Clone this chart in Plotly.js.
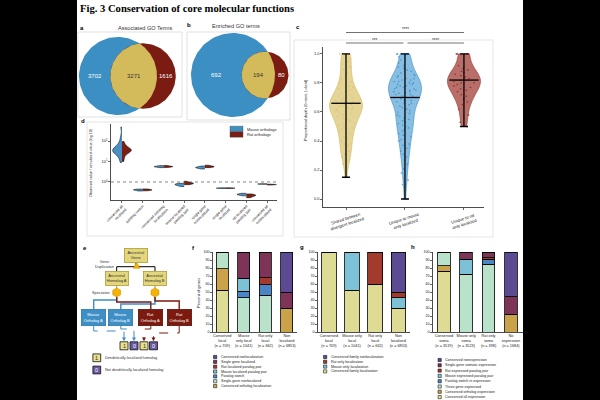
<!DOCTYPE html>
<html><head><meta charset="utf-8">
<script src="https://cdn.plot.ly/plotly-3.0.1.min.js"></script>
<style>html,body{margin:0;padding:0;background:#000}#chart{width:600px;height:400px}</style>
</head><body><div id="chart"></div>
<script>
// ================= DATA =================
const vennATitle = 'Associated GO Terms';
const vennACounts = [3702, 3271, 1616];   // mouse only, shared, rat only
const vennBTitle = 'Enriched GO terms';
const vennBCounts = [692, 194, 80];

const cCats = ['Shared between<br>divergent localized', 'Unique to mouse<br>only localized', 'Unique to rat<br>only localized'];
const cShared = [0.15,0.24,0.27,0.29,0.31,0.33,0.35,0.37,0.38,0.40,0.42,0.43,0.45,0.46,0.48,0.49,0.50,0.51,0.52,0.53,0.54,0.55,0.56,0.57,0.58,0.58,0.59,0.60,0.60,0.61,0.62,0.62,0.63,0.63,0.64,0.64,0.65,0.65,0.66,0.66,0.67,0.67,0.68,0.68,0.69,0.70,0.70,0.71,0.72,0.73,0.74,0.75,0.76,0.77,0.78,0.80,0.81,0.83,0.85,0.87,0.89,0.91,0.93,0.95,0.97,1.0,1.0,1.0];
const cMouse = [0.0,0.10,0.13,0.18,0.21,0.24,0.27,0.29,0.31,0.33,0.35,0.37,0.38,0.40,0.41,0.43,0.44,0.45,0.47,0.48,0.49,0.50,0.51,0.52,0.53,0.54,0.55,0.56,0.57,0.58,0.59,0.60,0.61,0.62,0.63,0.64,0.65,0.66,0.66,0.67,0.68,0.68,0.69,0.70,0.70,0.71,0.71,0.72,0.72,0.73,0.73,0.74,0.74,0.75,0.75,0.76,0.76,0.77,0.77,0.78,0.78,0.79,0.79,0.80,0.80,0.81,0.81,0.82,0.82,0.83,0.83,0.84,0.85,0.85,0.86,0.87,0.88,0.89,0.90,0.91,0.92,0.94,0.96,0.98,1.0,1.0,1.0,1.0];
const cRat = [0.50,0.53,0.58,0.62,0.65,0.67,0.69,0.71,0.72,0.74,0.75,0.76,0.77,0.78,0.79,0.80,0.80,0.81,0.82,0.82,0.83,0.84,0.85,0.86,0.87,0.88,0.89,0.90,0.92,1.0,1.0,1.0,1.0];
const cMean = [0.66, 0.70, 0.82];
const cMin = [0.15, 0.0, 0.50];
const cMax = [1.0, 1.0, 1.0];
const cSig = [['****', 0, 2], ['***', 0, 1], ['****', 1, 2]];

const dCats = ['conserved all<br>localized', 'paralog switch', 'conserved ortholog<br>localization', 'mouse localized<br>paralog pair', 'single gene<br>nonlocalized', 'single gene<br>localized', 'rat localized<br>paralog pair', 'conserved all<br>nonlocalized'];
const dMouse = [
  [9,14,20,25,28,31,33,35,37,40,44,52,65,90,160,480],
  [0.36,0.38,0.40,0.41,0.42,0.43,0.45],
  [5.0,5.3,5.5,5.6,5.7,5.9,6.3],
  [0.60,0.66,0.71,0.74,0.77,0.80,0.86],
  [4.3,4.6,4.9,5.0,5.1,5.3,5.6,6.0],
  [0.48,0.49,0.50,0.50,0.51,0.52],
  [0.21,0.23,0.24,0.25,0.26,0.28],
  [0.77,0.78,0.79,0.80,0.81,0.82]
];
const dRat = [
  [10,15,21,26,29,32,34,36,38,41,45,53,68,95],
  [0.37,0.39,0.40,0.41,0.42,0.44,0.46],
  [5.1,5.4,5.5,5.6,5.8,6.0,6.4],
  [0.74,0.79,0.83,0.86,0.89,0.94,1.08],
  [5.0,5.3,5.5,5.6,5.8,6.1,6.6],
  [0.48,0.49,0.50,0.50,0.51,0.52],
  [0.17,0.19,0.21,0.22,0.23,0.24,0.26],
  [0.71,0.73,0.74,0.75,0.76,0.78]
];
const dSeries = ['Mouse orthologs', 'Rat orthologs'];

const fCats = ['Conserved<br>local<br>(n = 709)', 'Mouse<br>only local<br>(n = 1041)', 'Rat only<br>local<br>(n = 662)', 'Non<br>localized<br>(n = 6853)'];
const fNames = ['Conserved all localization', 'Conserved ortholog localization', 'Single-gene nonlocalized', 'Paralog switch', 'Mouse localized paralog pair', 'Rat localized paralog pair', 'Single gene localized', 'Conserved nonlocalization'];
const fValues = [[52,0,0,0],[27,0,0,30],[21,43,46,0],[0,8,13,0],[0,16,0,0],[0,0,9,0],[0,33,32,20],[0,0,0,50]];
const fInLegend = [false,true,true,true,true,true,true,true];

const gCats = ['Conserved<br>local<br>(n = 709)', 'Mouse only<br>local<br>(n = 1041)', 'Rat only<br>local<br>(n = 662)', 'Non<br>localized<br>(n = 6853)'];
const gNames = ['Conserved family localization', 'Mouse only localization', 'Rat only localization', 'Conserved family nonlocalization'];
const gValues = [[100,52,60,30],[0,48,0,13],[0,0,40,7],[0,0,0,50]];

const hCats = ['Conserved<br>soma<br>(n = 3519)', 'Mouse only<br>soma<br>(n = 3523)', 'Rat only<br>soma<br>(n = 398)', 'No<br>expression<br>(n = 1684)'];
const hNames = ['Conserved all expression', 'Conserved ortholog expression', 'Three gene expressed', 'Paralog switch in expression', 'Mouse expressed paralog pair', 'Rat expressed paralog pair', 'Single-gene somatic expression', 'Conserved nonexpression'];
const hValues = [[76,0,0,0],[7,0,0,22],[17,72,85,0],[0,0,6,0],[0,19,0,0],[0,0,2,0],[0,9,7,22],[0,0,0,56]];

const eSquares = ['1', '0', '1', '0'];
const eLegend = [['1', 'Dendritically localized homolog'], ['0', 'Not dendritically localized homolog']];

// ================= STYLE =================
const C = {
  vBlue:'#3b8fc3', vYellow:'#d3bb5c', vRed:'#7a1c12',
  pale:'#dedb95', ochre:'#c9a24a', green:'#b9e2cb', blue:'#4a86c6', cyan:'#7dc1d6', red:'#a23b2d', maroon:'#7e3457', purple:'#5c4b93',
  eYellow:'#e3d67c', eYellowB:'#b09e3a', eBlue:'#3d8fc6', eRed:'#7c1a10', orange:'#f3b300'
};
const fColors = [C.pale, C.ochre, C.green, C.blue, C.cyan, C.red, C.maroon, C.purple];
const gColors = [C.pale, C.cyan, C.red, C.purple];
const hColors = [C.pale, C.ochre, C.green, C.blue, C.cyan, C.red, C.maroon, C.purple];

const W = 600, H = 400;
const px = x => x / W;
const py = y => 1 - y / H;
const traces = [];
const shapes = [];
const annotations = [];

function txt(x, y, text, opt) {
  annotations.push(Object.assign({xref:'paper', yref:'paper', x:px(x), y:py(y), text, showarrow:false,
    xanchor:'center', yanchor:'middle', font:{size:4, color:'#222'}}, opt || {}));
}
function pathOf(pts, close) {
  return pts.map((p, i) => (i ? 'L' : 'M') + px(p[0]).toFixed(5) + ',' + py(p[1]).toFixed(5)).join(' ') + (close ? ' Z' : '');
}
function line(pts, color, width, dash) {
  shapes.push({type:'path', xref:'paper', yref:'paper', path:pathOf(pts, false), line:{color, width, dash:dash || 'solid'}});
}
function poly(pts, fill, lc, lw) {
  shapes.push({type:'path', xref:'paper', yref:'paper', path:pathOf(pts, true), fillcolor:fill, line:{color:lc || fill, width:lw || 0}});
}
function rect(x0, y0, x1, y1, lc, fill, lw) {
  shapes.push({type:'rect', xref:'paper', yref:'paper', x0:px(x0), x1:px(x1), y0:py(y1), y1:py(y0),
    line:{color:lc, width:lw == null ? 0.6 : lw}, fillcolor:fill || 'rgba(0,0,0,0)'});
}

// white page
shapes.push({type:'rect', xref:'paper', yref:'paper', x0:px(77), x1:px(523), y0:0, y1:1, fillcolor:'#fff', line:{width:0}, layer:'below'});

// title
txt(78, 9, '<b>Fig. 3 Conservation of core molecular functions</b>', {xanchor:'left', font:{family:'Liberation Serif, Times New Roman, serif', size:10.6, color:'#000'}});
// panel letters
[['a',82,28],['b',189,25],['c',298,27],['d',83,121],['e',85,248],['f',193,248],['g',302,247],['h',413,247]].forEach(l =>
  txt(l[1], l[2], '<b>' + l[0] + '</b>', {font:{size:6, color:'#000'}}));

// ================= VENN =================
function lensArea(r1, r2, d) {
  if (d >= r1 + r2) return 0;
  if (d <= Math.abs(r1 - r2)) return Math.PI * Math.min(r1, r2) ** 2;
  const a1 = r1 * r1 * Math.acos((d * d + r1 * r1 - r2 * r2) / (2 * d * r1));
  const a2 = r2 * r2 * Math.acos((d * d + r2 * r2 - r1 * r1) / (2 * d * r2));
  const t = 0.5 * Math.sqrt((-d + r1 + r2) * (d + r1 - r2) * (d - r1 + r2) * (d + r1 + r2));
  return a1 + a2 - t;
}
// frame = [left px, bottom px] of the axis area, axis units are pixels
function venn(counts, r1, left, cy, xa, ya, frame) {
  const [a, ab, b] = counts;
  const k = r1 / Math.sqrt(a + ab);
  const r2 = k * Math.sqrt(b + ab);
  const target = Math.PI * k * k * ab;
  let lo = Math.abs(r1 - r2) + 1e-6, hi = r1 + r2;
  for (let i = 0; i < 80; i++) { const m = (lo + hi) / 2; if (lensArea(r1, r2, m) > target) lo = m; else hi = m; }
  const d = (lo + hi) / 2;
  const x1 = left + r1, x2 = x1 + d;
  const circ = (cx, r) => { const xs = [], ys = []; for (let i = 0; i <= 120; i++) { const t = 2 * Math.PI * i / 120; xs.push(cx + r * Math.cos(t)); ys.push(cy + r * Math.sin(t)); } return [xs, ys]; };
  const c1 = circ(x1, r1), c2 = circ(x2, r2);
  const aa = (d * d + r1 * r1 - r2 * r2) / (2 * d);
  const hh = Math.sqrt(Math.max(0, r1 * r1 - aa * aa));
  const t1 = Math.atan2(hh, aa), t2 = Math.atan2(hh, d - aa);
  const lx = [], ly = [];
  for (let i = 0; i <= 60; i++) { const t = -t1 + 2 * t1 * i / 60; lx.push(x1 + r1 * Math.cos(t)); ly.push(cy + r1 * Math.sin(t)); }
  for (let i = 0; i <= 60; i++) { const t = Math.PI - t2 + 2 * t2 * i / 60; lx.push(x2 + r2 * Math.cos(t)); ly.push(cy + r2 * Math.sin(t)); }
  const base = {type:'scatter', mode:'lines', fill:'toself', line:{width:0}, xaxis:xa, yaxis:ya, hoverinfo:'skip', showlegend:false};
  traces.push(Object.assign({}, base, {x:c1[0], y:c1[1], fillcolor:C.vBlue}));
  traces.push(Object.assign({}, base, {x:c2[0], y:c2[1], fillcolor:C.vRed}));
  traces.push(Object.assign({}, base, {x:lx, y:ly, fillcolor:C.vYellow}));
  const L0 = x1 - r1, L1 = x2 - r2, R0 = x1 + r1, R1 = x2 + r2;
  const lxs = [(L0 + L1) / 2, (L1 + R0) / 2, (R0 + R1) / 2];
  const cols = ['#fff', '#333', '#fff'];
  counts.forEach((n, i) => txt(frame[0] + lxs[i], frame[1] - cy, String(n), {font:{size:6, color:cols[i]}}));
}
venn(vennACounts, 39, 1, 41, 'x', 'y', [78, 117]);
venn(vennBCounts, 42, 4, 45, 'x2', 'y2', [187, 120]);
txt(145, 28, vennATitle, {font:{size:5.6, color:'#333'}});
txt(236, 26, vennBTitle, {font:{size:5.6, color:'#333'}});
rect(78, 32, 182, 117, '#cfcfcf');
rect(187, 32, 290, 120, '#cfcfcf');
rect(294, 40, 493, 237, '#d4d4d4');
rect(87, 122, 283, 236, '#d4d4d4');

// ================= PANEL C =================
const cSets = [[cShared, C.vYellow, 'rgba(214,190,95,0.65)', '#d9c270'], [cMouse, '#3a8fc8', 'rgba(70,155,210,0.65)', '#3a92cc'], [cRat, '#9a3a34', 'rgba(160,62,55,0.75)', '#8a2420']];
cSets.forEach((s, i) => {
  traces.push({type:'violin', xaxis:'x3', yaxis:'y3', x:s[0].map(() => cCats[i]), y:s[0], points:'all', pointpos:0, jitter:0.7,
    marker:{size:1.7, color:s[3], opacity:0.75}, fillcolor:s[2], line:{color:s[1], width:0.6}, width:0.56, spanmode:'hard',
    bandwidth:0.055, scalegroup:'c' + i, box:{visible:false}, meanline:{visible:false}, showlegend:false, hoverinfo:'skip'});
});
traces.push({type:'scatter', mode:'markers', xaxis:'x3', yaxis:'y3', x:cCats, y:cMean,
  marker:{symbol:'line-ew', size:21, color:'#000', line:{width:1.3, color:'#000'}},
  error_y:{type:'data', symmetric:false, array:cMax.map((v, i) => v - cMean[i]), arrayminus:cMean.map((v, i) => v - cMin[i]), color:'#000', thickness:1.3, width:4},
  showlegend:false, hoverinfo:'skip'});
cCats.forEach((c, i) => annotations.push({xref:'x3', yref:'paper', x:i, y:py(221), text:c, showarrow:false, textangle:-18,
  font:{size:4.2, color:'#222'}, xanchor:'center', yanchor:'middle'}));
txt(305, 110, 'Proportional depth (0=root, 1=leaf)', {textangle:-90, font:{size:4, color:'#222'}});
const cxPix = [346, 405.5, 464];
cSig.forEach((s, k) => {
  const yy = k === 0 ? 32.5 : 43;
  const x0 = cxPix[s[1]] + (k === 2 ? 2 : 0), x1 = cxPix[s[2]] - (k === 1 ? 2 : 0);
  line([[x0, yy], [x1, yy]], '#333', 0.7);
  txt((x0 + x1) / 2, yy - 2.6, s[0], {font:{size:4.5, color:'#333'}});
});

// ================= PANEL D =================
[[dMouse, 'negative', '#4a90c4'], [dRat, 'positive', '#7b1e14']].forEach((s, j) => {
  s[0].forEach((arr, i) => {
    traces.push({type:'violin', xaxis:'x4', yaxis:'y4', x:arr.map(() => dCats[i]), y:arr.map(v => Math.log10(v)), side:s[1], width:0.9,
      points:false, spanmode:'hard', scalemode:'width', scalegroup:'d' + j + '_' + i, fillcolor:s[2], line:{color:'#000', width:0.5},
      box:{visible:false}, meanline:{visible:false}, name:dSeries[j], showlegend:false, hoverinfo:'skip'});
  });
});
shapes.push({type:'line', xref:'x4 domain', yref:'y4', x0:0, x1:1, y0:0, y1:0, line:{color:'#333', width:0.6, dash:'dot'}});
txt(91, 163, 'Observed value / simulated value (log 10)', {textangle:-90, font:{size:3.7, color:'#222'}});
[[C.vBlue, 126.2], ['#7b1e14', 131.8]].forEach((b, i) => {
  rect(230, b[1], 243, b[1] + 5.4, '#444', b[0], 0.4);
  txt(244.5, b[1] + 2.8, dSeries[i], {xanchor:'left', font:{size:4, color:'#222'}});
});

// ================= PANEL E =================
function box(cx, cy, w, h, text, fill, border, fc) {
  annotations.push({xref:'paper', yref:'paper', x:px(cx), y:py(cy), text, showarrow:false, bgcolor:fill, bordercolor:border,
    borderwidth:0.8, borderpad:0, width:w, height:h, xanchor:'center', yanchor:'middle', valign:'middle', align:'center',
    font:{size:4, color:fc}});
}
function square(cx, cy, s, v) {
  rect(cx - s / 2, cy - s / 2, cx + s / 2, cy + s / 2, '#111', v === '1' ? '#e8e08a' : '#6a5aa2', 0.8);
  txt(cx, cy, v, {font:{size:5.4, color:v === '1' ? '#333' : '#fff'}});
}
line([[136, 262], [136, 266.7]], '#000', 1);
line([[116.7, 271], [116.7, 266.7], [155, 266.7], [155, 271]], '#000', 1);
poly([[136.7, 262.2], [133.4, 268.3], [140, 268.3]], C.orange, '#c88a00', 0.5);
line([[116.7, 285], [116.7, 297]], '#c08a10', 1);
line([[155, 285], [155, 297]], '#c08a10', 1);
line([[116.7, 297], [116.7, 300], [93.7, 300], [93.7, 309]], C.eBlue, 1.4);
line([[155, 297], [155, 304], [120.8, 304], [120.8, 309]], C.eBlue, 1.4);
line([[116.7, 297], [116.7, 302], [150.8, 302], [150.8, 309]], C.eRed, 1.4);
line([[155, 297], [155, 301], [179.2, 301], [179.2, 309]], C.eRed, 1.4);
[116.7, 155].forEach(cx => {
  const pts = []; for (let i = 0; i < 6; i++) { const t = Math.PI / 6 + i * Math.PI / 3; pts.push([cx + 4.6 * Math.cos(t), 292.5 + 4.6 * Math.sin(t)]); }
  poly(pts, C.orange, '#c88a00', 0.5);
});
line([[93.7, 326], [93.7, 331], [124, 331], [124, 338.5]], C.eBlue, 1, 'dash');
line([[120.8, 326], [120.8, 329], [134, 329], [134, 338.5]], C.eBlue, 1, 'dash');
line([[150.8, 326], [150.8, 329], [144, 329], [144, 338.5]], C.eRed, 1, 'dash');
line([[179.2, 326], [179.2, 333], [153.5, 333], [153.5, 338.5]], C.eRed, 1, 'dash');
[[124, C.eBlue], [134, C.eBlue], [144, C.eRed], [153.5, C.eRed]].forEach(a => poly([[a[0] - 2, 337.5], [a[0] + 2, 337.5], [a[0], 341.2]], a[1]));
box(136, 255.3, 22, 13, 'Ancestral<br>Gene', C.eYellow, C.eYellowB, '#333');
box(116.7, 278, 22, 13, 'Ancestral<br>Homolog A', C.eYellow, C.eYellowB, '#333');
box(155, 278, 22, 13, 'Ancestral<br>Homolog B', C.eYellow, C.eYellowB, '#333');
box(93.7, 317.5, 23, 15.5, 'Mouse<br>Ortholog A', C.eBlue, '#2f78aa', '#fff');
box(120.8, 317.5, 23, 15.5, 'Mouse<br>Ortholog B', C.eBlue, '#2f78aa', '#fff');
box(150.8, 317.5, 23, 15.5, 'Rat<br>Ortholog A', C.eRed, '#5a120a', '#fff');
box(179.2, 317.5, 23, 15.5, 'Rat<br>Ortholog B', C.eRed, '#5a120a', '#fff');
txt(116, 264, 'Gene<br>Duplication', {xanchor:'right', font:{size:3.8, color:'#333'}});
txt(112, 292.5, 'Speciation', {xanchor:'right', font:{size:3.8, color:'#333'}});
[124, 134, 144, 153.5].forEach((x, i) => square(x, 345.8, 8, eSquares[i]));
eLegend.forEach((e, i) => {
  const y = i ? 370 : 357.8;
  square(96.8, y, 7.8, e[0]);
  txt(103, y, e[1], {xanchor:'left', font:{size:3.8, color:'#333'}});
});

// ================= PANELS F G H =================
function bars(cats, names, values, colors, xa, ya, width) {
  names.forEach((n, i) => traces.push({type:'bar', xaxis:xa, yaxis:ya, x:cats, y:values[i], name:n, width:width,
    marker:{color:colors[i], line:{color:'#000', width:0.8}}, showlegend:false, hoverinfo:'skip'}));
}
bars(fCats, fNames, fValues, fColors, 'x5', 'y5', 0.55);
bars(gCats, gNames, gValues, gColors, 'x6', 'y6', 0.63);
bars(hCats, hNames, hValues, hColors, 'x7', 'y7', 0.56);
function legendBlock(x, y0, dy, names, colors, show) {
  let k = 0;
  for (let i = names.length - 1; i >= 0; i--) {
    if (show && !show[i]) continue;
    const y = y0 + dy * k; k++;
    rect(x, y - 1.6, x + 3.3, y + 1.6, '#000', colors[i], 0.5);
    txt(x + 5, y, names[i], {xanchor:'left', font:{size:3.6, color:'#222'}});
  }
}
legendBlock(213.5, 357, 4.85, fNames, fColors, fInLegend);
legendBlock(323.5, 357, 4.8, gNames, gColors, null);
legendBlock(438, 360, 5.3, hNames, hColors, null);
txt(198, 293, 'Percent of genes', {textangle:-90, font:{size:4, color:'#222'}});

// ================= LAYOUT =================
function ax(d0, d1, extra, isY) {
  const dom = isY ? [py(d1), py(d0)] : [px(d0), px(d1)];
  return Object.assign({domain:dom, showgrid:false, zeroline:false, showline:true, linecolor:'#000', linewidth:0.7,
    ticks:'outside', ticklen:2, tickwidth:0.6, tickcolor:'#000', tickfont:{size:4, color:'#222'}, fixedrange:true, automargin:false}, extra);
}
const hidden = {visible:false};
const pctY = {range:[0, 100], tickvals:[0,10,20,30,40,50,60,70,80,90,100], ticksuffix:'%', tickfont:{size:3.7, color:'#222'}};
const barX = {type:'category', ticks:'', tickangle:0, tickfont:{size:3.8, color:'#222'}};
const layout = {
  width:W, height:H, margin:{l:0, r:0, t:0, b:0}, paper_bgcolor:'#000', plot_bgcolor:'rgba(0,0,0,0)',
  font:{family:'Liberation Sans, Arial, sans-serif', size:4, color:'#222'},
  showlegend:false, barmode:'stack', violinmode:'overlay', hovermode:false,
  xaxis: ax(78, 182, Object.assign({range:[0, 104], anchor:'y'}, hidden)),
  yaxis: ax(32, 117, Object.assign({range:[0, 85], anchor:'x'}, hidden), true),
  xaxis2: ax(187, 290, Object.assign({range:[0, 103], anchor:'y2'}, hidden)),
  yaxis2: ax(32, 120, Object.assign({range:[0, 88], anchor:'x2'}, hidden), true),
  xaxis3: ax(323, 484, {type:'category', range:[-0.39, 2.34], anchor:'y3', showticklabels:false}),
  yaxis3: ax(47, 207, {range:[-0.055, 1.048], tickvals:[0, 0.2, 0.4, 0.6, 0.8, 1.0], tickformat:'.1f', anchor:'x3'}, true),
  xaxis4: ax(111, 277, {type:'category', range:[-0.53, 7.48], anchor:'y4', tickangle:-45, tickfont:{size:3.7, color:'#222'}}),
  yaxis4: ax(124, 200, {range:[-0.88, 2.83], tickvals:[0, 1, 2], ticktext:['10<sup>0</sup>', '10<sup>1</sup>', '10<sup>2</sup>'], anchor:'x4'}, true),
  xaxis5: ax(213, 297, Object.assign({range:[-0.43, 3.47], anchor:'y5'}, barX)),
  yaxis5: ax(252, 332, Object.assign({anchor:'x5'}, pctY), true),
  xaxis6: ax(318, 410, Object.assign({range:[-0.47, 3.5], anchor:'y6'}, barX)),
  yaxis6: ax(252, 332, Object.assign({anchor:'x6'}, pctY), true),
  xaxis7: ax(433, 524, Object.assign({range:[-0.49, 3.59], anchor:'y7'}, barX)),
  yaxis7: ax(252, 332, Object.assign({anchor:'x7'}, pctY), true),
  shapes, annotations
};
Plotly.newPlot('chart', traces, layout, {staticPlot:true, displayModeBar:false});
</script></body></html>
